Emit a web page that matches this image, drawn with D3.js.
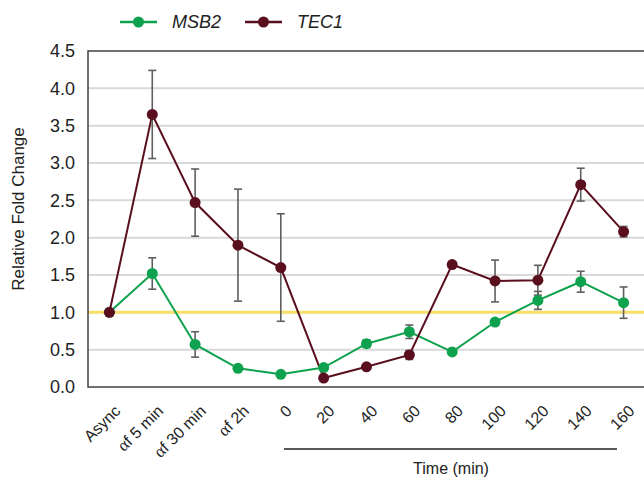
<!DOCTYPE html>
<html><head><meta charset="utf-8">
<script src="https://cdn.jsdelivr.net/npm/d3@7"></script>
<style>body{margin:0;background:#fff}svg{display:block;font-family:Arial,"Liberation Sans",sans-serif}</style>
</head><body><svg id="c" width="644" height="479"></svg>
<script>
const categories = ["Async","αf 5 min","αf 30 min","αf 2h","0","20","40","60","80","100","120","140","160"];
const msb2 = [1.0,1.52,0.57,0.25,0.17,0.26,0.58,0.74,0.47,0.87,1.16,1.41,1.13];
const msb2Err = [0,0.21,0.17,0,0,0,0.05,0.09,0,0,0.12,0.14,0.21];
const tec1 = [1.0,3.65,2.47,1.9,1.6,0.12,0.27,0.43,1.64,1.42,1.43,2.71,2.08];
const tec1Err = [0,0.59,0.45,0.75,0.72,0,0,0.06,0,0.28,0.2,0.22,0.07];
const yTicks = [0,0.5,1,1.5,2,2.5,3,3.5,4,4.5];
const seriesNames = ["MSB2","TEC1"];
const colors = ["#0fa24e","#5a0f1e"];

const svg = d3.select("#c");
const L=88, R=645, T=51, B=387;
const x = d3.scaleBand().domain(categories).range([L,R]);
const y = d3.scaleLinear().domain([0,4.5]).range([B,T]);
const cx = d => x(d)+x.bandwidth()/2;

svg.append("g").selectAll("line").data(yTicks.filter(v=>v>0 && v<4.5)).join("line")
  .attr("x1",L).attr("x2",R).attr("y1",d=>y(d)).attr("y2",d=>y(d))
  .attr("stroke","#d9d9d9").attr("stroke-width",2);
svg.append("line").attr("x1",L).attr("x2",R).attr("y1",y(1)).attr("y2",y(1))
  .attr("stroke","#f7df6a").attr("stroke-width",3);

svg.append("rect").attr("x",L).attr("y",T).attr("width",R-L).attr("height",B-T)
  .attr("fill","none").attr("stroke","#404040").attr("stroke-width",1.5);

const ya = svg.append("g").attr("transform",`translate(${L},0)`)
  .call(d3.axisLeft(y).tickValues(yTicks).tickFormat(d3.format(".1f")).tickSize(0).tickPadding(13));
ya.select(".domain").remove();
ya.selectAll("text").attr("font-size",18).attr("fill","#222").attr("font-family","Arial,'Liberation Sans',sans-serif");

svg.append("text").attr("transform","translate(24,209) rotate(-90)").attr("text-anchor","middle")
  .attr("font-size",17).attr("fill","#222").text("Relative Fold Change");

const xl = svg.append("g").selectAll("text").data(categories).join("text")
  .attr("transform",d=>`translate(${cx(d)+8},408) rotate(-45)`)
  .attr("text-anchor","end").attr("dy","0.35em").attr("font-size",16).attr("fill","#222");
xl.each(function(d){
  const t=d3.select(this);
  if(d.startsWith("α")){
    t.append("tspan").attr("font-family","'Liberation Serif','DejaVu Serif',serif").attr("font-size",17).text("α");
    t.append("tspan").text(d.slice(1));
  } else t.text(d);
});

svg.append("line").attr("x1",284).attr("x2",617).attr("y1",449).attr("y2",449).attr("stroke","#222").attr("stroke-width",1.3);
svg.append("text").attr("x",451).attr("y",474).attr("text-anchor","middle").attr("font-size",16).attr("fill","#222").text("Time (min)");

const series = [ {v:msb2,e:msb2Err,c:colors[0]}, {v:tec1,e:tec1Err,c:colors[1]} ];
const line = d3.line().x((d,i)=>cx(categories[i])).y(d=>y(d));
series.forEach(s=>{
  svg.append("path").datum(s.v).attr("d",line).attr("fill","none").attr("stroke",s.c).attr("stroke-width",2);
});
series.forEach(s=>{
  const g = svg.append("g");
  s.v.forEach((v,i)=>{
    const e=s.e[i]; if(!e) return;
    const xx=cx(categories[i]);
    g.append("line").attr("x1",xx).attr("x2",xx).attr("y1",y(v+e)).attr("y2",y(v-e)).attr("stroke","#5f5f5f").attr("stroke-width",1.6);
    [v+e,v-e].forEach(w=>g.append("line").attr("x1",xx-4).attr("x2",xx+4).attr("y1",y(w)).attr("y2",y(w)).attr("stroke","#5f5f5f").attr("stroke-width",1.6));
  });
});
series.forEach(s=>{
  svg.append("g").selectAll("circle").data(s.v).join("circle")
    .attr("cx",(d,i)=>cx(categories[i])).attr("cy",d=>y(d)).attr("r",5.5).attr("fill",s.c);
});

const lg = [{x:120},{x:245}];
seriesNames.forEach((n,i)=>{
  const g=svg.append("g");
  g.append("line").attr("x1",lg[i].x).attr("x2",lg[i].x+37).attr("y1",22).attr("y2",22).attr("stroke",colors[i]).attr("stroke-width",2.5);
  g.append("circle").attr("cx",lg[i].x+18.5).attr("cy",22).attr("r",5.5).attr("fill",colors[i]);
  g.append("text").attr("x",lg[i].x+52).attr("y",28).attr("font-size",18).attr("font-style","italic").attr("fill","#222").text(n);
});
</script></body></html>
